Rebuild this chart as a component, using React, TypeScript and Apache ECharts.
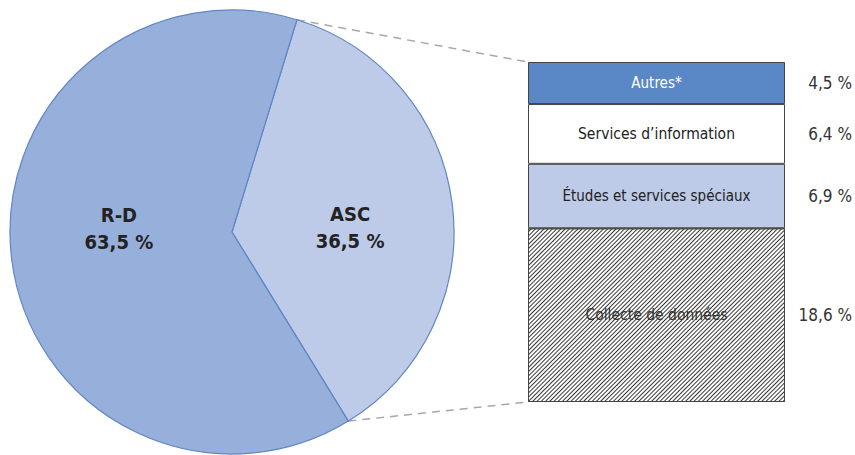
import React, { useEffect, useRef } from "react";
import * as echarts from "echarts";

const pieNames = ["ASC", "R-D"];
const pieValues = [36.5, 63.5];
const barNames = ["Autres*", "Services d’information", "Études et services spéciaux", "Collecte de données"];
const barValues = [4.5, 6.4, 6.9, 18.6];

const FONT = "'DejaVu Sans Condensed', 'Liberation Sans Narrow', 'Roboto', sans-serif";
const fmt = (v: number) => v.toFixed(1).replace(".", ",") + " %";

export default function App() {
  const ref = useRef<HTMLDivElement>(null);
  useEffect(() => {
    if (!ref.current) return;
    const chart = echarts.init(ref.current, undefined, { renderer: "svg" });
    const cx = 232, cy = 232, R = 222, startAngle = 73;
    const gl = 528, gt = 62, gw = 257, gh = 340;
    const totalPie = pieValues.reduce((a, b) => a + b, 0);
    const a0 = (startAngle * Math.PI) / 180;
    const a1 = ((startAngle - (360 * pieValues[0]) / totalPie) * Math.PI) / 180;
    const p0 = [cx + R * Math.cos(a0), cy - R * Math.sin(a0)];
    const p1 = [cx + R * Math.cos(a1), cy - R * Math.sin(a1)];
    const barTotal = barValues.reduce((a, b) => a + b, 0);

    const segStyles = [
      { color: "#5A87C6", text: "#ffffff", size: 15 },
      { color: "#ffffff", text: "#222222", size: 15.5 },
      { color: "#BDCAE8", text: "#222222", size: 15 },
      { color: "#ffffff", text: "#333333", size: 15.5, hatch: true },
    ];

    const barSeries = barNames.map((name, i) => ({
      type: "bar",
      name,
      stack: "asc",
      barWidth: "100%",
      xAxisIndex: 0,
      yAxisIndex: 0,
      data: [barValues[i]],
      itemStyle: {
        color: segStyles[i].color,
        borderColor: "#444444",
        borderWidth: 1,
        decal: segStyles[i].hatch
          ? {
              symbol: "rect",
              symbolSize: 1,
              dashArrayX: [1, 0],
              dashArrayY: [1, 2],
              rotation: -Math.PI / 4,
              color: "#383838",
            }
          : "none",
      },
      label: {
        show: true,
        position: [0, "50%"],
        align: "left",
        verticalAlign: "middle",
        formatter: () => `{n|${name}}{v|${fmt(barValues[i])}}`,
        rich: {
          n: { width: gw, align: "center", color: segStyles[i].text, fontSize: segStyles[i].size, fontFamily: FONT },
          v: { width: 67, align: "right", color: "#333333", fontSize: 17, fontFamily: FONT },
        },
      },
      emphasis: { disabled: true },
    }));

    chart.setOption({
      animation: false,
      backgroundColor: "#ffffff",
      grid: { left: gl, top: gt, width: gw, height: gh },
      xAxis: { type: "category", data: ["ASC"], show: false },
      yAxis: { type: "value", min: 0, max: barTotal, inverse: true, show: false },
      series: [
        {
          type: "pie",
          center: [cx, cy],
          radius: R,
          startAngle,
          clockwise: true,
          silent: true,
          data: pieNames.map((n, i) => ({
            name: n,
            value: pieValues[i],
            itemStyle: { color: i === 0 ? "#BDCAE8" : "#97AFDB" },
            label: { offset: i === 0 ? [5, 10] : [0, -18] },
          })),
          itemStyle: { borderColor: "#5F86C5", borderWidth: 1.2 },
          label: {
            show: true,
            position: "inside",
            formatter: (p: any) => `${p.name}\n${fmt(p.value)}`,
            fontFamily: FONT,
            fontWeight: "bold",
            fontSize: 20,
            lineHeight: 27,
            color: "#222222",
          },
          labelLine: { show: false },
        },
        ...barSeries,
      ],
      graphic: [
        {
          type: "line",
          shape: { x1: p0[0], y1: p0[1], x2: gl, y2: gt },
          style: { stroke: "#A8A8A8", lineWidth: 1.5, lineDash: [8, 6] },
        },
        {
          type: "line",
          shape: { x1: p1[0], y1: p1[1], x2: gl, y2: gt + gh },
          style: { stroke: "#A8A8A8", lineWidth: 1.5, lineDash: [8, 6] },
        },
      ],
    });
    return () => chart.dispose();
  }, []);
  return (
    <div
      ref={ref}
      style={{ position: "absolute", left: 0, top: 0, width: 855, height: 455 }}
    />
  );
}
